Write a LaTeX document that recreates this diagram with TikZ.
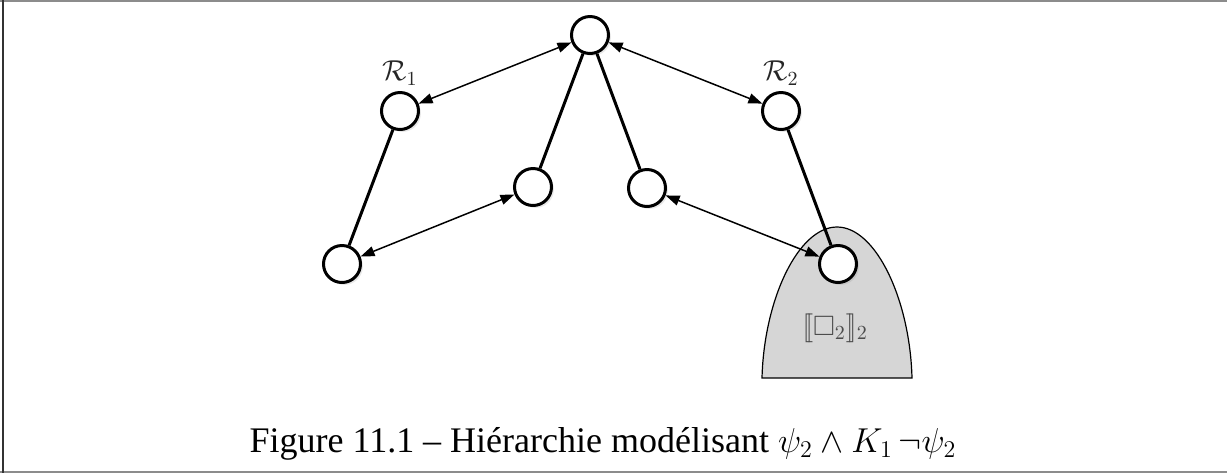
\documentclass[tikz,border=0pt]{standalone}
\usepackage{amssymb}
\usepackage{fontspec}
\setmainfont{Liberation Serif}
\usetikzlibrary{arrows.meta,shadows}
\begin{document}
\begin{tikzpicture}[x=0.5pt,y=-0.5pt,
  state/.style={circle,draw=black,line width=1.5pt,fill=white,minimum size=18.5pt,inner sep=0pt,
    drop shadow={opacity=0.18,shadow xshift=1.2pt,shadow yshift=-1.2pt}},
  link/.style={line width=1.5pt},
  rel/.style={line width=0.75pt,{Triangle[length=7pt,width=5pt]}-{Triangle[length=7pt,width=5pt]}},
  lbl/.style={text=black!85,font=\fontsize{14}{16}\selectfont},
  framel/.style={draw=black!45,line width=1pt}]
\useasboundingbox (0,0) rectangle (1227,473);
\draw[framel] (0,1) -- (1227,1);
\draw[framel] (0,472) -- (1227,472);
\draw[draw=black!80,line width=1.2pt] (3,0) -- (3,473);
% shaded region
\draw[fill=black!16,line width=0.6pt] (762,378) .. controls (764,300) and (798,227) .. (837,227)
  .. controls (876,227) and (910,300) .. (912,378) -- cycle;
\node[text=black!70,font=\fontsize{14}{16}\selectfont] (sem) at (835,328) {$[\![\square_2]\!]_2$};
% nodes
\node[state] (t) at (590,35) {};
\node[state] (r1) at (400,111) {};
\node[state] (r2) at (781,111) {};
\node[state] (ml) at (533,187) {};
\node[state] (mr) at (647,188) {};
\node[state] (bl) at (342,264) {};
\node[state] (s) at (838,264) {};
\node[lbl] (l1) at (400,73) {$\mathcal{R}_1$};
\node[lbl] (l2) at (781,73) {$\mathcal{R}_2$};
% connectors
\draw[link] (t) -- (ml);
\draw[link] (t) -- (mr);
\draw[link] (r1) -- (bl);
\draw[link] (r2) -- (s);
\draw[rel] (r1) -- (t);
\draw[rel] (t) -- (r2);
\draw[rel] (bl) -- (ml);
\draw[rel] (mr) -- (s);
% caption
\node[font=\fontsize{18}{21}\selectfont,anchor=base] (cap) at (603,452)
  {Figure 11.1 – Hiérarchie modélisant $\psi_2 \wedge K_1\, \neg\psi_2$};
\end{tikzpicture}
\end{document}
